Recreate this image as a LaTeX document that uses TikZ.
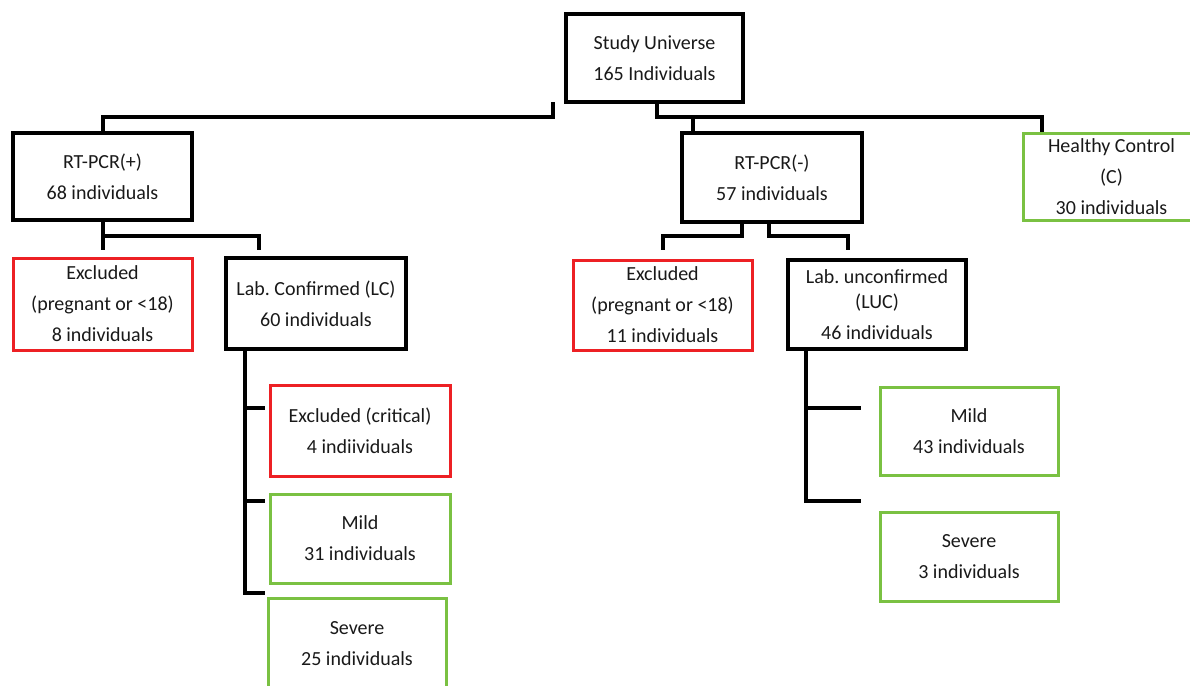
\documentclass[tikz,border=0pt]{standalone}
\usepackage{fontspec}
\setmainfont{Carlito}
\definecolor{bred}{RGB}{237,32,36}
\definecolor{bgreen}{RGB}{122,193,66}
\begin{document}
\frenchspacing
\begin{tikzpicture}[x=1pt,y=-1pt,
  box/.style={draw, rectangle, inner sep=0pt, align=center, text=black!90, font=\fontsize{20}{31}\selectfont\frenchspacing},
  blk/.style={box, draw=black, line width=4pt},
  redbox/.style={box, draw=bred, line width=3pt},
  grnbox/.style={box, draw=bgreen, line width=3pt},
  conn/.style={draw=black, line width=4pt, line join=miter}]
\useasboundingbox (0,0) rectangle (1190,685);
\clip (0,0) rectangle (1190,685);

% boxes
\node[blk, minimum width=177pt, minimum height=88pt] (su) at (654.5,58) {Study Universe\\165 Individuals};
\node[blk, minimum width=179pt, minimum height=87pt] (rtp) at (102.5,176.5) {RT-PCR(+)\\68 individuals};
\node[blk, minimum width=180pt, minimum height=89pt] (rtm) at (772,177.5) {RT-PCR(-)\\57 individuals};
\node[grnbox, minimum width=177pt, minimum height=87pt] (hc) at (1111.5,176.5) {Healthy Control\\(C)\\30 individuals};

\node[redbox, minimum width=179pt, minimum height=92pt] (ex1) at (102.5,304) {Excluded\\(pregnant or <18)\\8 individuals};
\node[blk, minimum width=180pt, minimum height=91pt] (lc) at (316,303.5) {Lab.\ Confirmed (LC)\\60 individuals};
\node[redbox, minimum width=179pt, minimum height=90pt] (ex2) at (662.5,305) {Excluded\\(pregnant or <18)\\11 individuals};
\node[blk, minimum width=178pt, minimum height=89pt] (luc) at (877,304.5) {Lab.\ unconfirmed\\[-6pt](LUC)\\46 individuals};

\node[redbox, minimum width=180pt, minimum height=91pt] (exc) at (360,430.5) {Excluded (critical)\\4 indiividuals};
\node[grnbox, minimum width=180pt, minimum height=89pt] (mild1) at (360,538.5) {Mild\\31 individuals};
\node[grnbox, minimum width=178pt, minimum height=92pt] (sev1) at (357,644) {Severe\\25 individuals};

\node[grnbox, minimum width=178pt, minimum height=88pt] (mild2) at (969,431) {Mild\\43 individuals};
\node[grnbox, minimum width=178pt, minimum height=89pt] (sev2) at (969,556.5) {Severe\\3 individuals};

% top connectors
\coordinate (t0) at (553,102);
\coordinate (t1) at (553,117);
\draw[conn] (t0) -- (t1) -| (rtp.north);

\coordinate (u1) at (657,117);
\coordinate (u2) at (1042,117);
\coordinate (u3) at (693,117);
\draw[conn] (su.south -| u1) -- (u1) -- (u2) -- (hc.north -| u2);
\draw[conn] (u3) -- (rtm.north -| u3);

% RT-PCR(+) branch
\coordinate (a1) at (102.5,250);
\coordinate (a2) at (102.5,236);
\coordinate (a3) at (259,250);
\draw[conn] (rtp.south) -- (a1);
\draw[conn] (a2) -| (a3);

% RT-PCR(-) branch
\coordinate (b1) at (742,236);
\coordinate (b2) at (663,250);
\coordinate (b3) at (769,236);
\coordinate (b4) at (848,250);
\draw[conn] (rtm.south -| b1) -- (b1) -| (b2);
\draw[conn] (rtm.south -| b3) -- (b3) -| (b4);

% LC branch
\coordinate (c0) at (245,593);
\coordinate (c1) at (265,408);
\coordinate (c2) at (265,501);
\coordinate (c3) at (265,593);
\draw[conn] (lc.south -| c0) -- (c0) -- (c3);
\draw[conn] (c0 |- c1) -- (c1);
\draw[conn] (c0 |- c2) -- (c2);

% LUC branch
\coordinate (d0) at (806,501);
\coordinate (d1) at (861,408);
\coordinate (d2) at (861,501);
\draw[conn] (luc.south -| d0) -- (d0) -- (d2);
\draw[conn] (d0 |- d1) -- (d1);
\end{tikzpicture}
\end{document}
